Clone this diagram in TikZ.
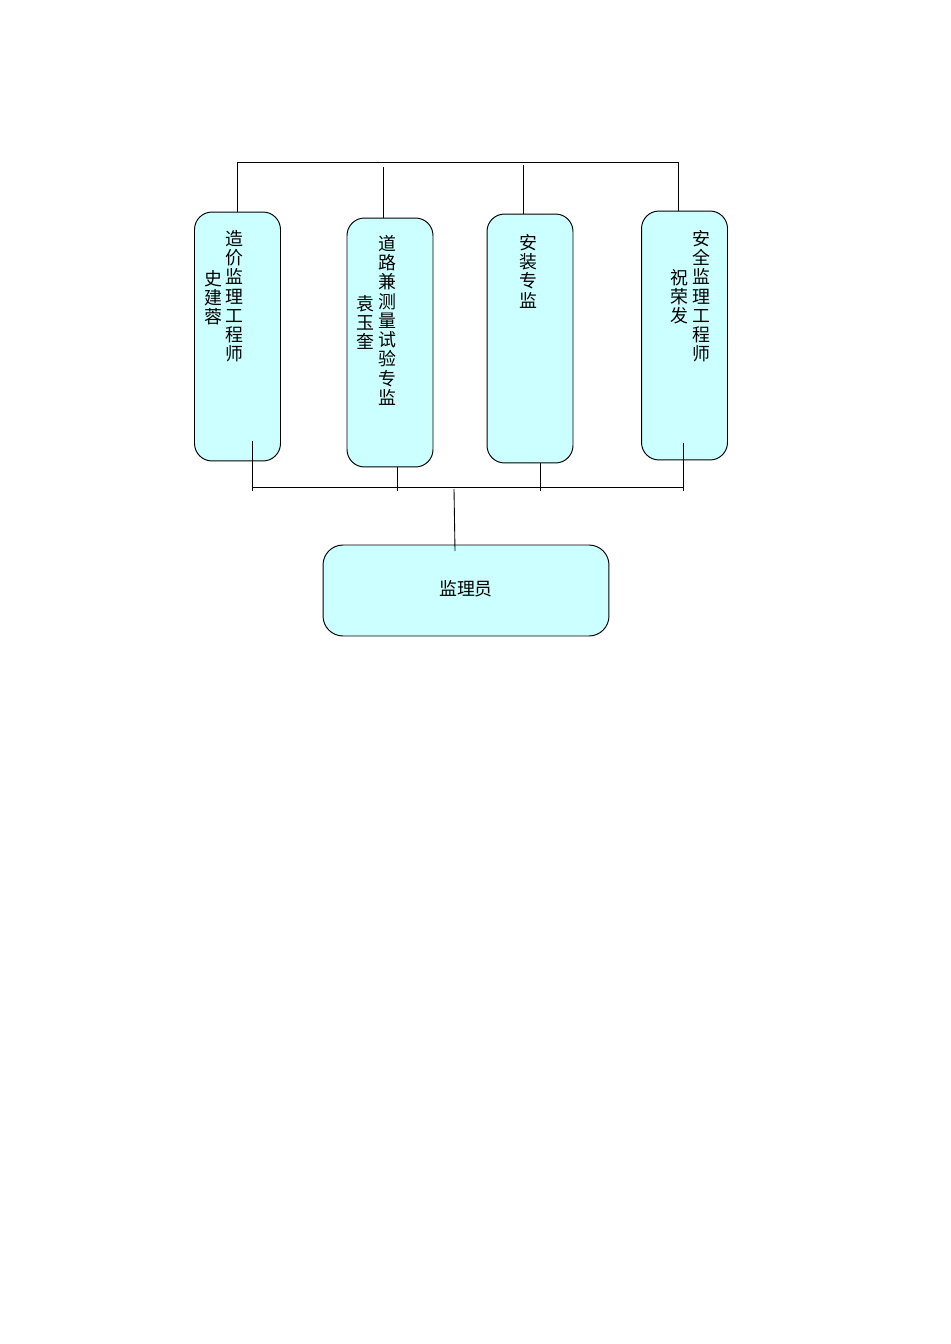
\documentclass[tikz,border=0pt]{standalone}
\usepackage{fontspec}
\newfontfamily\cjk{Noto Sans CJK SC}
\usetikzlibrary{positioning,calc}

\definecolor{boxcyan}{RGB}{204,255,255}

\tikzset{
	postbox/.style={draw,line width=0.55pt,fill=boxcyan,rounded corners=0.35cm,
		minimum width=1.72cm,minimum height=4.98cm,inner sep=0pt},
	coltext/.style={anchor=north,inner sep=0pt,align=center,
		font=\cjk\fontsize{10.2}{10.95}\selectfont},
	bus/.style={line width=0.5pt}
}

\begin{document}
\begin{tikzpicture}[x=0.02cm,y=-0.02cm]
	\useasboundingbox (0,0) rectangle (950,1344);

	% four posts
	\node[postbox] (cost) at (237.5,336.5) {};
	\node[postbox] (road) at (390,342.5) {};
	\node[postbox] (inst) at (530,338.5) {};
	\node[postbox] (safe) at (684.5,335.5) {};

	\node[coltext] (costA) at (234,230) {造\\价\\监\\理\\工\\程\\师};
	\node[coltext] (costB) at (213,270) {史\\建\\蓉};
	\node[coltext] (roadA) at (387,235) {道\\路\\兼\\测\\量\\试\\验\\专\\监};
	\node[coltext] (roadB) at (365,295) {袁\\玉\\奎};
	\node[coltext] (instA) at (528,234) {安\\装\\专\\监};
	\node[coltext] (safeA) at (701,230) {安\\全\\监\\理\\工\\程\\师};
	\node[coltext] (safeB) at (679,269) {祝\\荣\\发};

	% staff
	\node[draw,line width=0.55pt,fill=boxcyan,rounded corners=0.4cm,
		minimum width=5.72cm,minimum height=1.82cm] (staff) at (466,590.5) {};
	\node[font=\cjk\fontsize{10.2}{10.95}\selectfont,inner sep=0pt] (staffT) at (466,589) {监理员};

	% top bus
	\coordinate (topL) at (237,162);
	\coordinate (topR) at (678,162);
	\coordinate (up2) at (383,167);
	\coordinate (up3) at (523,165);
	\draw[bus] (topL) -- (topR);
	\draw[bus] (topL) -- (topL |- cost.north);
	\draw[bus] (up2) -- (up2 |- road.north);
	\draw[bus] (up3) -- (up3 |- inst.north);
	\draw[bus] (topR) -- (topR |- safe.north);

	% bottom bus
	\coordinate (botL) at (253,487);
	\coordinate (botR) at (683,487);
	\coordinate (dn1) at (252,441);
	\coordinate (dn2) at (397,467);
	\coordinate (dn3) at (540,463);
	\coordinate (dn4) at (683,443);
	\coordinate (hub) at (454,489);
	\coordinate (hubE) at (455,551);
	\draw[bus] (botL) -- (botR);
	\draw[bus] (dn1) -- ++(0,50);
	\draw[bus] (dn2) -- ++(0,24);
	\draw[bus] (dn3) -- ++(0,28);
	\draw[bus] (dn4) -- ++(0,48);
	\draw[bus] (hub) -- (hubE);

\end{tikzpicture}
\end{document}
